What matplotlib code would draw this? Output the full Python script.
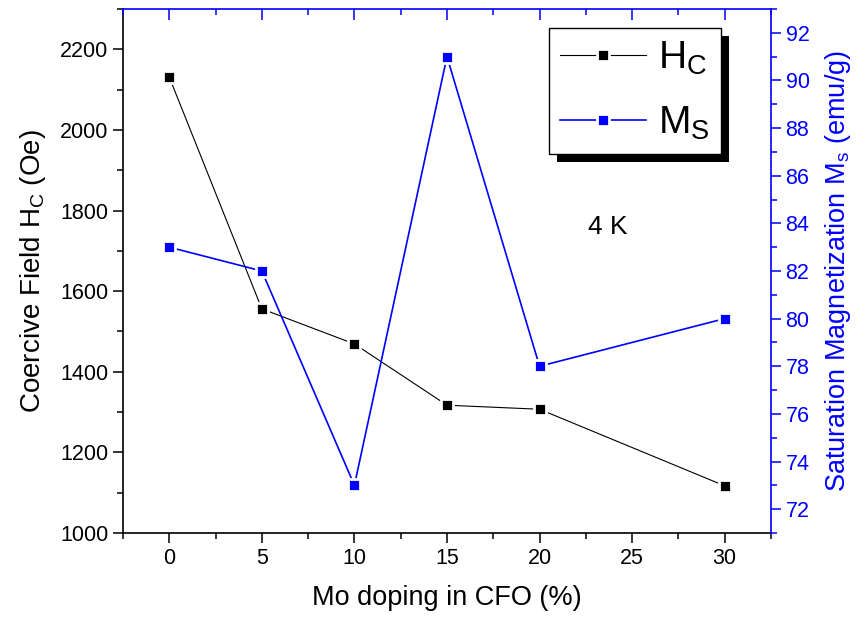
import matplotlib
matplotlib.use("Agg")
import matplotlib.pyplot as plt
from matplotlib.patches import Rectangle
from matplotlib.ticker import MultipleLocator
from matplotlib.transforms import IdentityTransform

doping = [0, 5, 10, 15, 20, 30]
hc = [2131, 1556, 1469, 1317, 1307, 1117]
ms = [83, 82, 73, 91, 78, 80]

plt.rcParams['font.family'] = ['Liberation Sans', 'DejaVu Sans']
plt.rcParams['mathtext.fontset'] = 'custom'
plt.rcParams['mathtext.rm'] = 'Liberation Sans'
plt.rcParams['mathtext.it'] = 'Liberation Sans'
plt.rcParams['mathtext.default'] = 'regular'

fig = plt.figure(figsize=(8.68, 6.26), dpi=100)
ax1 = fig.add_axes([0.1417, 0.1486, 0.8882 - 0.1417, 0.9856 - 0.1486])
ax2 = ax1.twinx()

l1, = ax1.plot(doping, hc, color='black', lw=0.8, marker='s', ms=8.5,
               mfc='black', mec='white', mew=2.0, label=r'$H_C$')
l2, = ax2.plot(doping, ms, color='blue', lw=1.2, marker='s', ms=8.5,
               mfc='blue', mec='white', mew=2.0, label=r'$M_S$')

ax1.set_xlim(-2.5, 32.5)
ax1.set_ylim(1000, 2300)
ax2.set_ylim(71, 93)

ax1.xaxis.set_major_locator(MultipleLocator(5))
ax1.xaxis.set_minor_locator(MultipleLocator(2.5))
ax1.yaxis.set_major_locator(MultipleLocator(200))
ax1.yaxis.set_minor_locator(MultipleLocator(100))
ax2.yaxis.set_major_locator(MultipleLocator(2))
ax2.yaxis.set_minor_locator(MultipleLocator(1))

for sp in ['top', 'right']:
    ax1.spines[sp].set_visible(False)
for sp in ['left', 'bottom']:
    ax2.spines[sp].set_visible(False)
ax2.spines['top'].set_color('blue')
ax2.spines['right'].set_color('blue')
for sp in ax1.spines.values():
    sp.set_linewidth(1.2)
for sp in ax2.spines.values():
    sp.set_linewidth(1.2)

ax1.tick_params(axis='both', which='major', direction='out', length=7, width=1.1,
                labelsize=15.5, top=False, right=False)
ax1.tick_params(axis='both', which='minor', direction='out', length=4, width=1.1,
                top=False, right=False)
ax2.tick_params(axis='y', which='major', direction='out', length=7, width=1.1,
                labelsize=15.5, colors='blue')
ax2.tick_params(axis='y', which='minor', direction='out', length=4, width=1.1,
                colors='blue')
ax2.xaxis.set_visible(True)
ax2.tick_params(axis='x', which='both', bottom=False, top=True, labelbottom=False,
                labeltop=False, direction='in', colors='blue', width=1.1)
ax2.tick_params(axis='x', which='major', length=8)
ax2.tick_params(axis='x', which='minor', length=4)

ax1.set_xlabel('Mo doping in CFO (%)', fontsize=19.5, labelpad=12)
ax1.set_ylabel(r'Coercive Field H$_C$ (Oe)', fontsize=20, labelpad=9)
ax2.set_ylabel(r'Saturation Magnetization M$_s$ (emu/g)', fontsize=19.5,
               color='blue', labelpad=10)

ax2.text(0.748, 0.584, '4 K', transform=ax2.transAxes, fontsize=19,
         ha='center', va='center')

leg = ax2.legend(handles=[l1, l2], loc='upper left', bbox_to_anchor=(0.657, 0.964),
                 borderaxespad=0, fontsize=28, fancybox=False, framealpha=1,
                 edgecolor='black', handlelength=2.2, handletextpad=0.3,
                 borderpad=0.3, labelspacing=0.72)
leg.get_frame().set_linewidth(1.0)
leg.set_zorder(10)

fig.canvas.draw()
bb = leg.get_window_extent()
shadow = Rectangle((bb.x0 + 8, bb.y0 - 8), bb.width, bb.height,
                   transform=IdentityTransform(), facecolor='black',
                   edgecolor='none', zorder=9, clip_on=False)
ax2.add_artist(shadow)

fig.savefig('out.png', dpi=100)
